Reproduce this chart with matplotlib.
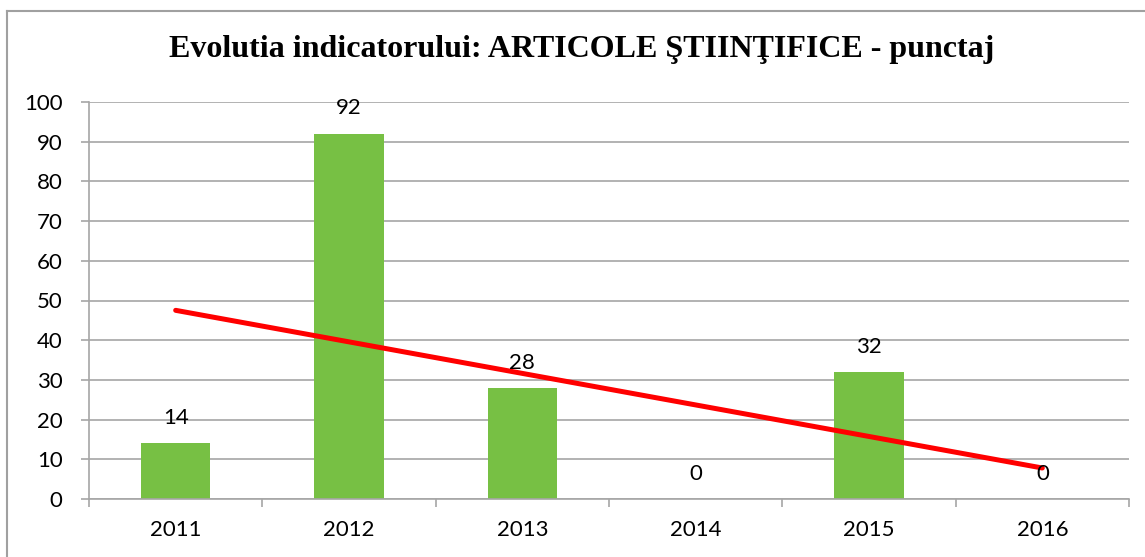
import matplotlib
matplotlib.use('Agg')
import matplotlib.pyplot as plt
from matplotlib.lines import Line2D
import numpy as np

# data
years = ['2011', '2012', '2013', '2014', '2015', '2016']
punctaj = [14, 92, 28, 0, 32, 0]
title = 'Evolutia indicatorului: ARTICOLE ŞTIINŢIFICE - punctaj'

bar_color = '#77C044'
grid_color = '#A6A6A6'

plt.rcParams['font.family'] = ['Lato', 'DejaVu Sans']

fig = plt.figure(figsize=(11.45, 5.57), dpi=100)
ax = fig.add_axes([89 / 1145, 58 / 557, 1040 / 1145, 397 / 557])

x = np.arange(len(years))
ax.bar(x, punctaj, width=0.4, color=bar_color, zorder=2)

# linear trendline (like Excel)
k, b = np.polyfit(x, punctaj, 1)
ax.plot(x, k * x + b, color='#FF0000', linewidth=3.6, zorder=3, solid_capstyle='round')

for xi, v in zip(x, punctaj):
    ax.annotate(str(v), (xi, v), xytext=(0, 11), textcoords='offset points',
                ha='center', va='bottom', fontsize=16, color='black', zorder=4)

ax.set_xlim(-0.5, len(years) - 0.5)
ax.set_ylim(0, 100)
ax.set_yticks(range(0, 101, 10))
ax.set_xticks(x)
ax.set_xticklabels(years)
ax.set_xticks(np.arange(-0.5, len(years)), minor=True)
ax.tick_params(axis='x', which='major', length=0, labelsize=16, pad=15)
ax.tick_params(axis='x', which='minor', length=6, color=grid_color, width=1.2)
ax.tick_params(axis='y', length=6, color=grid_color, width=1.2, labelsize=16, pad=13)

ax.grid(axis='y', color=grid_color, linewidth=1.2, zorder=0)
ax.set_axisbelow(True)
for side in ['top', 'right']:
    ax.spines[side].set_visible(False)
for side in ['left', 'bottom']:
    ax.spines[side].set_color(grid_color)
    ax.spines[side].set_linewidth(1.2)

fig.text(582 / 1145, 1 - 50 / 557, title, ha='center', va='center',
         fontsize=23, fontweight='bold', family=['Liberation Serif', 'DejaVu Serif'])

# chart area border (left and top edges only are inside the image)
top_y = 1 - 11 / 557
left_x = 7 / 1145
fig.add_artist(Line2D([left_x, 1.0], [top_y, top_y], transform=fig.transFigure,
                      color='#A0A0A0', linewidth=1.5))
fig.add_artist(Line2D([left_x, left_x], [0.0, top_y], transform=fig.transFigure,
                      color='#A0A0A0', linewidth=1.5))

fig.savefig('out.png', dpi=100)
